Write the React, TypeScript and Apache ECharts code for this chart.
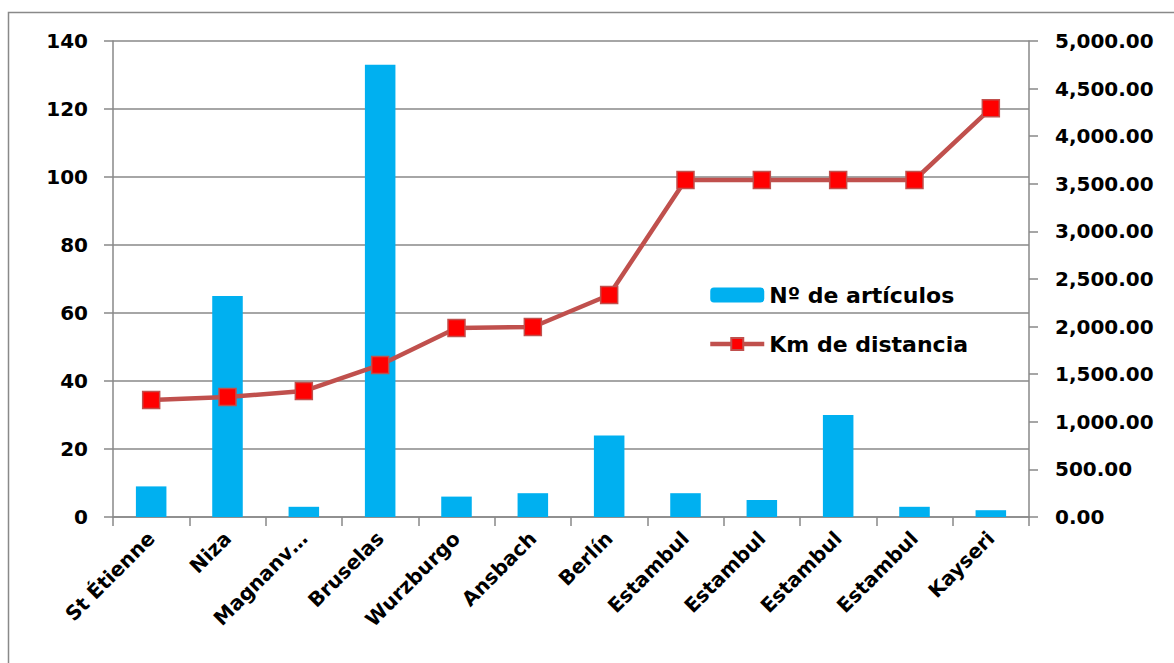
import React, { useEffect, useRef } from "react";
import * as echarts from "echarts";

const categories = ["St Étienne", "Niza", "Magnanv…", "Bruselas", "Wurzburgo", "Ansbach", "Berlín", "Estambul", "Estambul", "Estambul", "Estambul", "Kayseri"];
const articulos = [9, 65, 3, 133, 6, 7, 24, 7, 5, 30, 3, 2];
const distancia = [1229, 1260, 1323, 1597, 1985, 1996, 2332, 3540, 3540, 3540, 3540, 4293];
const leftTicks = { min: 0, max: 140, interval: 20 };
const rightTicks = { min: 0, max: 5000, interval: 500 };

const FONT = "DejaVu Sans";
const GREY = "#898989";

export default function App() {
  const ref = useRef<HTMLDivElement>(null);
  useEffect(() => {
    document.body.style.margin = "0";
    const chart = echarts.init(ref.current!, null, { renderer: "svg" });
    chart.setOption({
      animation: false,
      backgroundColor: "#fff",
      textStyle: { fontFamily: FONT },
      graphic: [
        {
          type: "rect",
          shape: { x: 8.5, y: 12.5, width: 1200, height: 700 },
          style: { fill: "none", stroke: GREY, lineWidth: 1.5 },
          silent: true,
          z: -10,
        },
      ],
      grid: { left: 113, right: 145, top: 41, bottom: 146 },
      legend: {
        orient: "vertical",
        left: 703,
        top: 279,
        itemWidth: 54,
        itemHeight: 15,
        itemGap: 27,
        textStyle: { fontFamily: FONT, fontWeight: "bold", fontSize: 22, color: "#000" },
        data: [
          { name: "Nº de artículos" },
          { name: "Km de distancia", lineStyle: { width: 4.5 } },
        ],
      },
      xAxis: {
        type: "category",
        data: categories,
        axisLine: { lineStyle: { color: GREY, width: 1.5 } },
        axisTick: { show: true, length: 9, alignWithLabel: false, lineStyle: { color: GREY, width: 1.5 } },
        axisLabel: {
          rotate: 45,
          interval: 0,
          margin: 18,
          fontFamily: FONT,
          fontWeight: "bold",
          fontSize: 20,
          color: "#000",
        },
      },
      yAxis: [
        {
          type: "value",
          ...leftTicks,
          axisLine: { show: true, lineStyle: { color: GREY, width: 1.5 } },
          axisTick: { show: true, length: 9, lineStyle: { color: GREY, width: 1.5 } },
          splitLine: { show: true, lineStyle: { color: GREY, width: 1.5 } },
          axisLabel: { margin: 25, fontFamily: FONT, fontWeight: "bold", fontSize: 20, color: "#000" },
        },
        {
          type: "value",
          ...rightTicks,
          position: "right",
          axisLine: { show: true, lineStyle: { color: GREY, width: 1.5 } },
          axisTick: { show: true, length: 9, lineStyle: { color: GREY, width: 1.5 } },
          splitLine: { show: false },
          axisLabel: {
            margin: 26,
            fontFamily: FONT,
            fontWeight: "bold",
            fontSize: 20,
            color: "#000",
            formatter: (v: number) => v.toLocaleString("en-US", { minimumFractionDigits: 2, maximumFractionDigits: 2 }),
          },
        },
      ],
      series: [
        {
          name: "Nº de artículos",
          type: "bar",
          yAxisIndex: 0,
          data: articulos,
          barWidth: "40%",
          itemStyle: { color: "#00B0F0" },
        },
        {
          name: "Km de distancia",
          type: "line",
          yAxisIndex: 1,
          data: distancia,
          symbol: "rect",
          symbolSize: 17,
          lineStyle: { color: "#C0504D", width: 4.5 },
          itemStyle: { color: "#FF0000", borderColor: "#C0504D", borderWidth: 1.5 },
          z: 3,
        },
      ],
    });
    return () => chart.dispose();
  }, []);
  return <div ref={ref} style={{ width: 1174, height: 663 }} />;
}
